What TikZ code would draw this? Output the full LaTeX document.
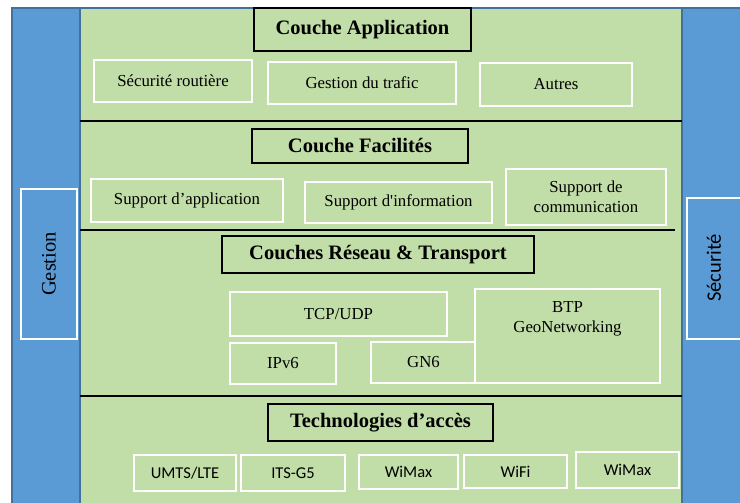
\documentclass[tikz,border=0pt]{standalone}
\usepackage{fontspec}
\setmainfont{Liberation Serif}
\newfontfamily\calib{Carlito}
\definecolor{layergreen}{RGB}{193,221,168}
\definecolor{sideblue}{RGB}{91,155,213}
\definecolor{edgeblue}{RGB}{65,113,156}
\tikzset{
  titlebox/.style={draw=black, line width=2pt, fill=layergreen, inner sep=0pt,
    font=\fontsize{20.5}{22}\selectfont\bfseries},
  itembox/.style={draw=white, line width=2pt, fill=layergreen, inner sep=0pt,
    font=\fontsize{16.8}{20}\selectfont, align=center},
  techbox/.style={draw=white, line width=2pt, fill=layergreen, inner sep=0pt,
    font=\calib\fontsize{16.5}{20}\selectfont},
  sidebox/.style={draw=white, line width=1.5pt, fill=sideblue, inner sep=0pt},
  sep/.style={draw=black, line width=1.6pt},
}
\begin{document}
\begin{tikzpicture}[x=1pt, y=-1pt]
\useasboundingbox (0,0) rectangle (740,503);
\fill[white] (0,0) rectangle (740,503);

% blue frame with the two side columns, green protocol stack in between
\draw[fill=sideblue, draw=edgeblue, line width=1.5pt] (12,8) rectangle (760,520);
\draw[fill=layergreen, draw=edgeblue, line width=1.5pt] (80,8) rectangle (682,520);

% layer separators
\draw[sep] (80,121) -- (682,121);
\draw[sep] (80,230) -- (675,230);
\draw[sep] (80,396) -- (682,396);

% side columns
\node[sidebox, minimum width=56, minimum height=150] (gestion) at (49,264) {};
\node[rotate=90, font=\fontsize{20.5}{22}\selectfont] (gestiontxt) at (gestion.center) {Gestion};
\draw[draw=white, line width=1.5pt] (748,198) -- (687,198) -- (687,339) -- (748,339);
\node[rotate=90, font=\calib\fontsize{20.5}{22}\selectfont] (securite) at (714,268) {Sécurité};

% application layer
\node[titlebox, minimum width=217, minimum height=43] (capp) at (362.5,29.5) {Couche Application};
\node[itembox, minimum width=158, minimum height=42] (secr) at (173,81) {Sécurité routière};
\node[itembox, minimum width=188, minimum height=42] (gtraf) at (362,83) {Gestion du trafic};
\node[itembox, minimum width=152, minimum height=43] (autres) at (556,84.5) {Autres};

% facilities layer
\node[titlebox, minimum width=216, minimum height=34] (cfac) at (360,146) {Couche Facilités};
\node[itembox, minimum width=192, minimum height=43] (sapp) at (187,200.5) {Support d’application};
\node[itembox, minimum width=187, minimum height=41] (sinf) at (398.5,202.5) {Support d\textquotesingle information};
\node[itembox, minimum width=160, minimum height=56] (scom) at (586,197) {Support de\\communication};

% network & transport layers
\node[titlebox, minimum width=312, minimum height=37] (cres) at (378,254.5) {Couches Réseau \& Transport};
\node[itembox, minimum width=217, minimum height=44] (tcp) at (338.5,314) {TCP/UDP};
\node[itembox, minimum width=106, minimum height=41] (ipv6) at (283,363.5) {IPv6};
\node[itembox, minimum width=105, minimum height=41] (gn6) at (423.5,362.5) {GN6};
\node[itembox, minimum width=185, minimum height=94] (btp) at (567.5,336) {};
\node[font=\fontsize{16.8}{20}\selectfont, align=center, anchor=north, inner sep=0pt] (btptxt)
  at ([yshift=-13]btp.north) {BTP\\GeoNetworking};

% access technologies
\node[titlebox, minimum width=225, minimum height=37] (ctech) at (380.5,422.5) {Technologies d’accès};
\node[techbox, minimum width=102, minimum height=36] (umts) at (185,473) {UMTS/LTE};
\node[techbox, minimum width=104, minimum height=36] (its) at (293,473) {ITS-G5};
\node[techbox, minimum width=99, minimum height=34] (wimaxa) at (408.5,472) {WiMax};
\node[techbox, minimum width=103, minimum height=33] (wifi) at (515.5,471.5) {WiFi};
\node[techbox, minimum width=103, minimum height=36] (wimaxb) at (627.5,470) {WiMax};
\end{tikzpicture}
\end{document}
